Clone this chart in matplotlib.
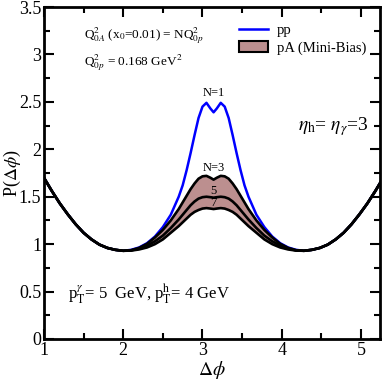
import matplotlib
matplotlib.use("Agg")
import matplotlib.pyplot as plt
from matplotlib.lines import Line2D
from matplotlib.patches import Patch
from matplotlib.ticker import MultipleLocator, FormatStrFormatter

plt.rcParams['font.family'] = ['Liberation Serif', 'DejaVu Serif']
plt.rcParams['mathtext.fontset'] = 'stix'

dphi = [1.00, 1.10, 1.20, 1.30, 1.40, 1.50, 1.60, 1.70, 1.80, 1.90, 2.00,
        2.10, 2.20, 2.30, 2.40, 2.50, 2.60, 2.70, 2.75, 2.80, 2.85, 2.90,
        2.95, 3.00, 3.05, 3.10, 3.14,
        3.18, 3.23, 3.28, 3.33, 3.38, 3.43, 3.48, 3.53, 3.58, 3.68, 3.78,
        3.88, 3.98, 4.08, 4.18, 4.28, 4.38, 4.48, 4.58, 4.68, 4.78, 4.88,
        4.98, 5.08, 5.18, 5.28]

pp = [1.70, 1.56, 1.43, 1.315, 1.21, 1.12, 1.05, 0.995, 0.96, 0.94, 0.93,
      0.940, 0.965, 1.01, 1.08, 1.18, 1.31, 1.50, 1.62, 1.78, 1.96, 2.15,
      2.33, 2.45, 2.49, 2.43, 2.39,
      2.43, 2.49, 2.45, 2.33, 2.15, 1.96, 1.78, 1.62, 1.50, 1.31, 1.18,
      1.08, 1.01, 0.965, 0.940, 0.93, 0.94, 0.96, 0.995, 1.05, 1.12, 1.21,
      1.315, 1.43, 1.56, 1.70]

pA_N3 = [1.70, 1.56, 1.43, 1.315, 1.21, 1.12, 1.05, 0.995, 0.96, 0.94, 0.93,
         0.936, 0.960, 1.003, 1.07, 1.15, 1.25, 1.37, 1.44, 1.51, 1.58, 1.64,
         1.69, 1.715, 1.72, 1.70, 1.68,
         1.70, 1.72, 1.715, 1.69, 1.64, 1.58, 1.51, 1.44, 1.37, 1.25, 1.15,
         1.07, 1.003, 0.960, 0.936, 0.93, 0.94, 0.96, 0.995, 1.05, 1.12, 1.21,
         1.315, 1.43, 1.56, 1.70]

pA_N5 = [1.70, 1.56, 1.43, 1.315, 1.21, 1.12, 1.05, 0.995, 0.96, 0.94, 0.93,
         0.934, 0.953, 0.985, 1.03, 1.09, 1.17, 1.26, 1.31, 1.36, 1.41, 1.45,
         1.48, 1.495, 1.50, 1.495, 1.49,
         1.495, 1.50, 1.495, 1.48, 1.45, 1.41, 1.36, 1.31, 1.26, 1.17, 1.09,
         1.03, 0.985, 0.953, 0.934, 0.93, 0.94, 0.96, 0.995, 1.05, 1.12, 1.21,
         1.315, 1.43, 1.56, 1.70]

pA_N7 = [1.70, 1.56, 1.43, 1.315, 1.21, 1.12, 1.05, 0.995, 0.96, 0.94, 0.93,
         0.932, 0.944, 0.965, 1.00, 1.05, 1.12, 1.19, 1.23, 1.27, 1.31, 1.34,
         1.36, 1.375, 1.38, 1.375, 1.37,
         1.375, 1.38, 1.375, 1.36, 1.34, 1.31, 1.27, 1.23, 1.19, 1.12, 1.05,
         1.00, 0.965, 0.944, 0.932, 0.93, 0.94, 0.96, 0.995, 1.05, 1.12, 1.21,
         1.315, 1.43, 1.56, 1.70]

fig = plt.figure(figsize=(3.82, 3.82), dpi=100)
ax = fig.add_axes([0.115, 0.1126, 0.88, 0.869])

ax.plot(dphi, pp, color='#0000ff', lw=1.8, zorder=2)
ax.fill_between(dphi, pA_N7, pA_N3, color='#bc8f8f', lw=0, zorder=3)
for y in (pA_N3, pA_N5, pA_N7):
    ax.plot(dphi, y, color='black', lw=1.9, zorder=4)

ax.set_xlim(1, 5.24)
ax.set_ylim(0, 3.5)
ax.xaxis.set_major_locator(MultipleLocator(1))
ax.xaxis.set_minor_locator(MultipleLocator(0.5))
ax.yaxis.set_major_locator(MultipleLocator(0.5))
ax.yaxis.set_minor_locator(MultipleLocator(0.25))
ax.yaxis.set_major_formatter(FormatStrFormatter('%g'))
ax.tick_params(which='both', direction='in', top=True, right=True, width=1.5)
ax.tick_params(which='major', length=7, labelsize=13, pad=2)
ax.tick_params(which='minor', length=4)
for s in ax.spines.values():
    s.set_linewidth(2)

ax.set_xlabel(r'$\Delta\phi$', fontsize=14, labelpad=0)
ax.set_ylabel(r'P($\Delta\phi$)', fontsize=13)
ax.yaxis.set_label_coords(-0.062, 0.5)

ax.text(1.5, 3.17, r'Q$^{2}_{0A}$ (x$_{0}$=0.01) = NQ$^{2}_{0p}$', fontsize=9.5)
ax.text(1.5, 2.88, r'Q$^{2}_{0p}$ = 0.168 GeV$^{2}$', fontsize=9.5)
ax.text(4.2, 2.2, r'$\eta_{\rm h}$= $\eta_{\gamma}$=3', fontsize=14)
ax.text(1.3, 0.42, r'p$^{\gamma}_{\rm T}$= 5  GeV, p$^{\rm h}_{\rm T}$= 4 GeV', fontsize=12)
ax.text(3.14, 2.56, 'N=1', fontsize=9, ha='center')
ax.text(3.14, 1.77, 'N=3', fontsize=9, ha='center')
ax.text(3.14, 1.53, '5', fontsize=9, ha='center')
ax.text(3.14, 1.40, '7', fontsize=9, ha='center')

handles = [Line2D([0], [0], color='#0000ff', lw=1.8),
           Patch(facecolor='#bc8f8f', edgecolor='black', lw=1.5)]
ax.legend(handles, ['pp', 'pA (Mini-Bias)'], loc='upper left',
          bbox_to_anchor=(0.58, 0.95), frameon=False, fontsize=10.5,
          handlelength=2.0, handletextpad=0.6, labelspacing=0.3,
          borderpad=0, borderaxespad=0)

fig.savefig('out.png', dpi=100)
